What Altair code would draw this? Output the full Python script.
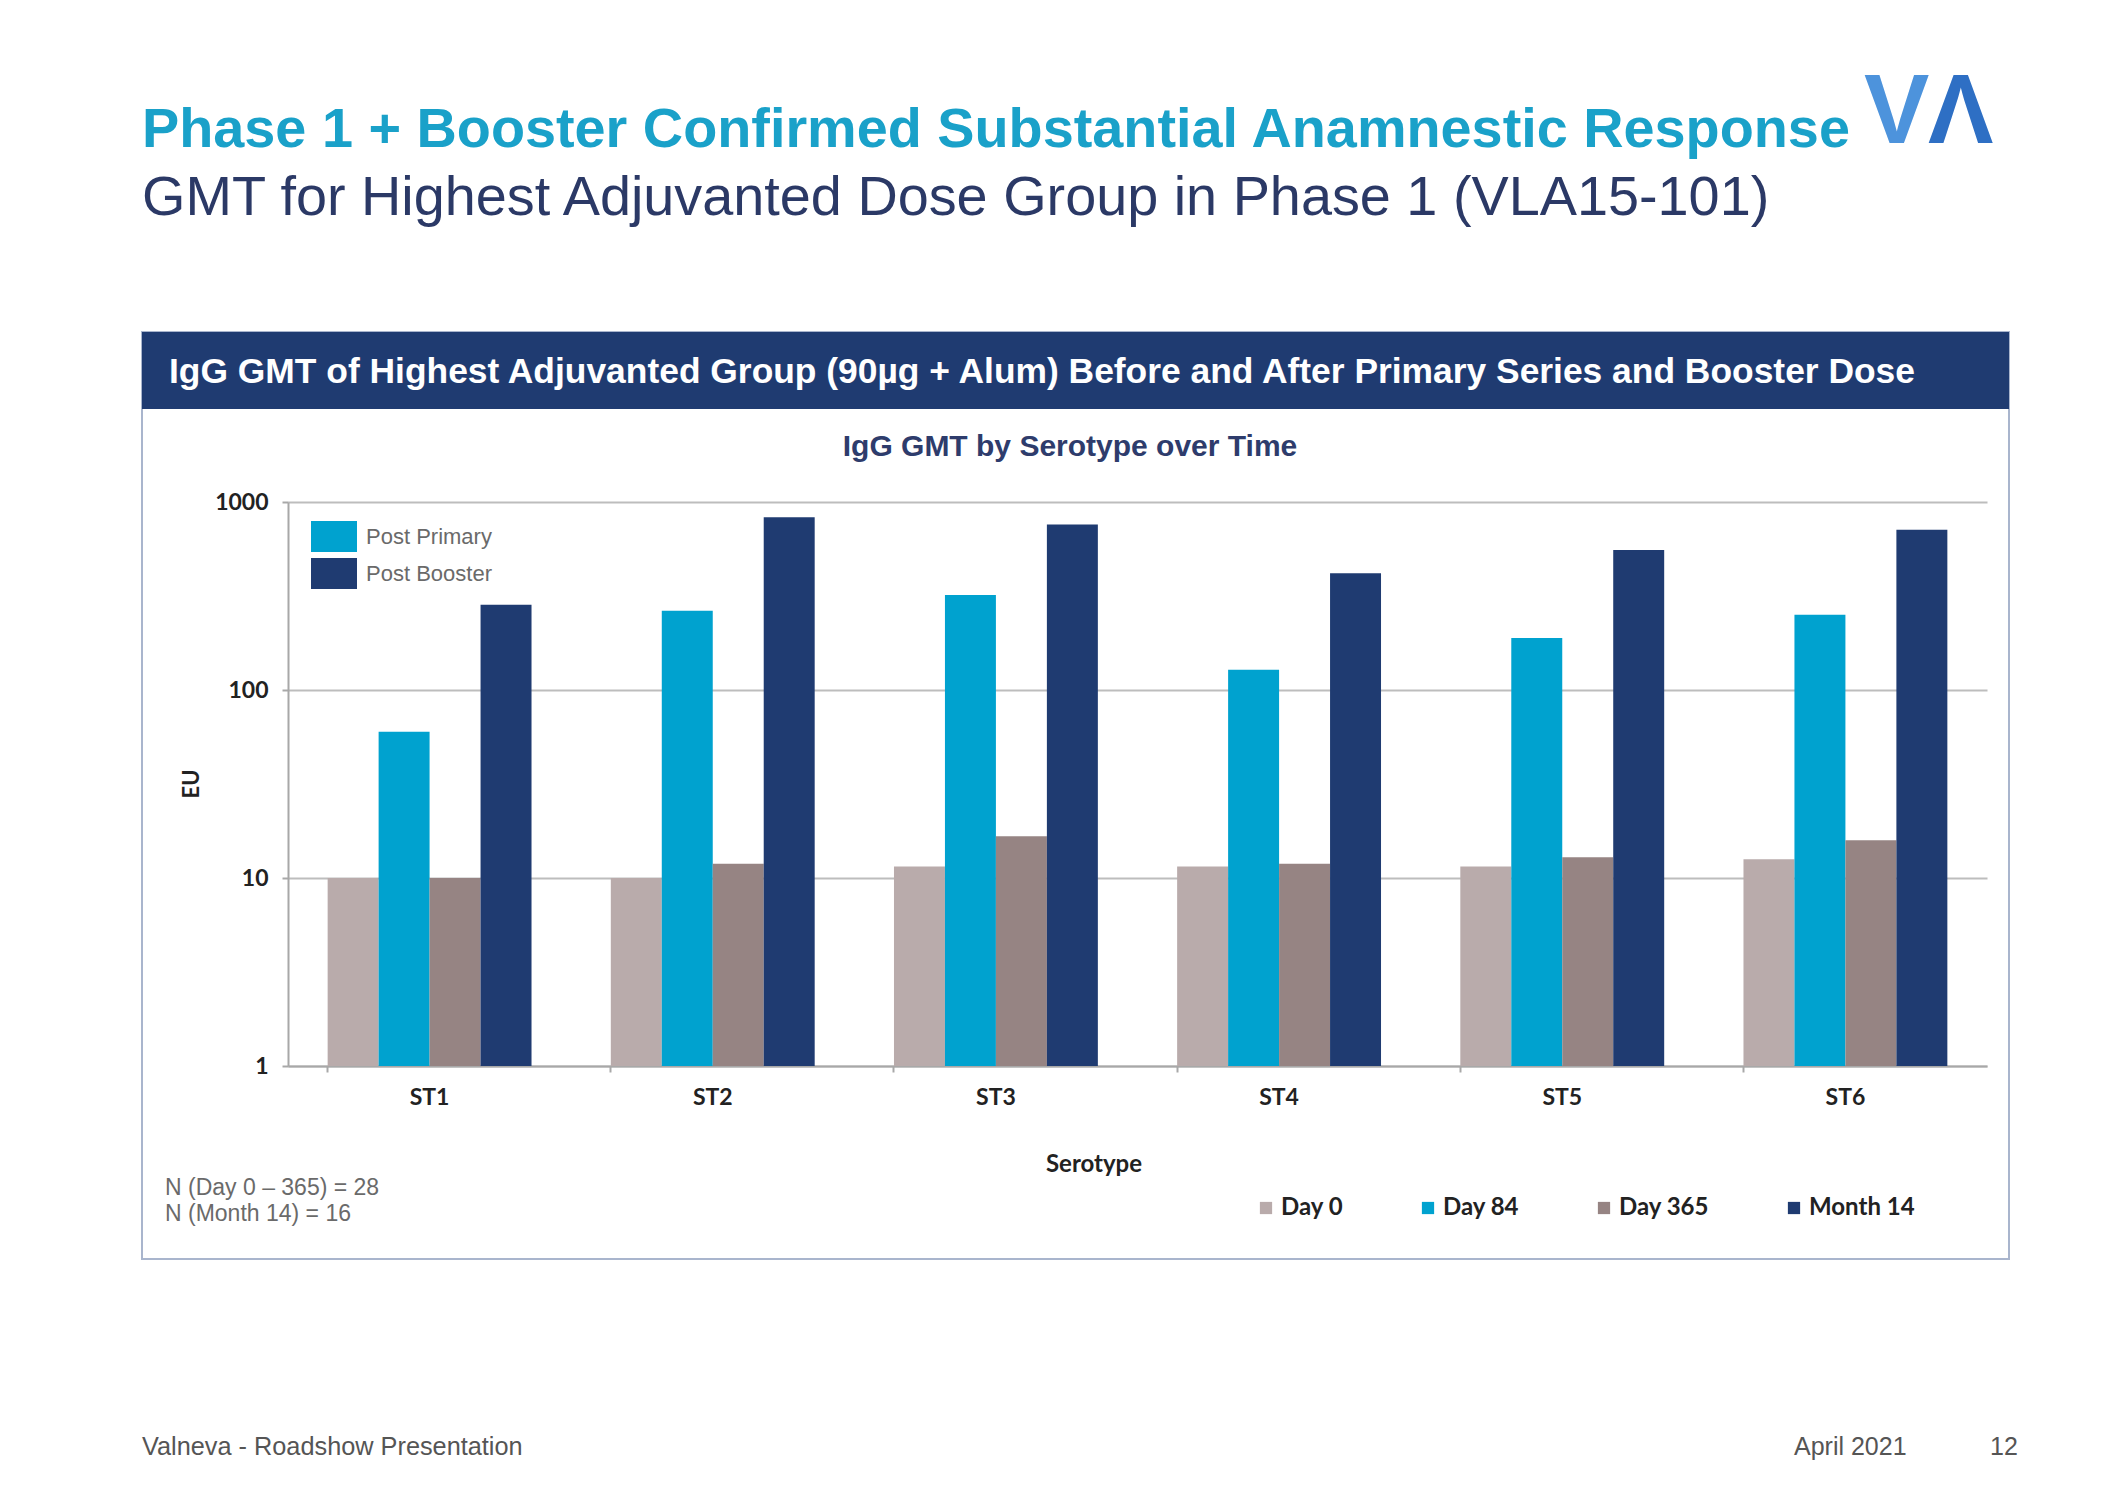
import altair as alt
import pandas as pd

# ---------------- data ----------------
serotypes = ["ST1", "ST2", "ST3", "ST4", "ST5", "ST6"]
timepoints = ["Day 0", "Day 84", "Day 365", "Month 14"]
day0 = [10, 10, 11.5, 11.5, 11.5, 12.6]
day84 = [60, 264, 320, 128, 189, 251]
day365 = [10, 11.9, 16.7, 11.9, 12.9, 15.9]
month14 = [284, 830, 759, 418, 556, 711]
colors = ["#b9abab", "#00a2cf", "#968483", "#1f3b71"]
y_ticks = [1, 10, 100, 1000]

title1 = "Phase 1 + Booster Confirmed Substantial Anamnestic Response"
title2 = "GMT for Highest Adjuvanted Dose Group in Phase 1 (VLA15-101)"
banner = "IgG GMT of Highest Adjuvanted Group (90µg + Alum) Before and After Primary Series and Booster Dose"
subtitle = "IgG GMT by Serotype over Time"
inner_legend = ["Post Primary", "Post Booster"]
inner_colors = ["#00a2cf", "#1f3b71"]
n_notes = ["N (Day 0 – 365) = 28", "N (Month 14) = 16"]
footer_left = "Valneva - Roadshow Presentation"
footer_date = "April 2021"
footer_page = "12"

series = [day0, day84, day365, month14]
rows = []
for tp, vals in zip(timepoints, series):
    for s, v in zip(serotypes, vals):
        rows.append({"serotype": s, "timepoint": tp, "value": v})
df = pd.DataFrame(rows)

# plot area in page coords: x 288..1987, y 502..1066
W, H = 1699, 564
OX, OY = 288, 502


def px(X):
    return X - OX


def py(Y):
    return Y - OY


one = pd.DataFrame({"a": [0]})


def text_layer(txt, X, Y, size, color, weight="normal", font="Liberation Sans",
               align="left", angle=0):
    kw = dict(font=font, fontSize=size, color=color, fontWeight=weight,
              align=align, baseline="middle")
    if angle:
        kw["angle"] = angle
    return alt.Chart(pd.DataFrame({"t": [txt]})).mark_text(**kw).encode(
        x=alt.value(px(X)), y=alt.value(py(Y)), text="t:N")


layers = []

# outer box border
layers.append(alt.Chart(one).mark_rect(fillOpacity=0, stroke="#a9b5cd", strokeWidth=2).encode(
    x=alt.value(px(142)), x2=alt.value(px(2009)), y=alt.value(py(332)), y2=alt.value(py(1259))))
# banner
layers.append(alt.Chart(one).mark_rect(color="#1f3b71").encode(
    x=alt.value(px(142)), x2=alt.value(px(2009)), y=alt.value(py(332)), y2=alt.value(py(409))))
layers.append(text_layer(banner, 169, 372, 35.4, "#ffffff", "bold"))

# titles
layers.append(text_layer(title1, 142, 130, 55.8, "#1aa1c9", "bold"))
layers.append(text_layer(title2, 142, 198, 55.8, "#2b3966"))
# logo approximation
layers.append(text_layer("V", 1864, 114, 98, "#4d93dc", "bold"))
layers.append(text_layer("Λ", 1928, 114, 98, "#2e6fc4", "bold"))

# chart subtitle
layers.append(text_layer(subtitle, 1070, 447, 30, "#2e3c6c", "bold", align="center"))

# inner legend (Post Primary / Post Booster)
for i, (lab, col) in enumerate(zip(inner_legend, inner_colors)):
    y0 = 521 + i * 37
    layers.append(alt.Chart(one).mark_rect(color=col).encode(
        x=alt.value(px(311)), x2=alt.value(px(357)), y=alt.value(py(y0)), y2=alt.value(py(y0 + 31))))
    layers.append(text_layer(lab, 366, y0 + 16, 22, "#6a6a6a"))

# EU title, Serotype title
layers.append(text_layer("EU", 192, 784, 22, "#222222", "bold", font="Lato", align="center", angle=270))
layers.append(text_layer("Serotype", 1094, 1165, 24, "#222222", "bold", font="Lato", align="center"))

# N notes
for i, t in enumerate(n_notes):
    layers.append(text_layer(t, 165, 1188 + i * 26, 23, "#6a6a6a"))

# footer
layers.append(text_layer(footer_left, 142, 1447, 25.3, "#555555"))
layers.append(text_layer(footer_date, 1794, 1447, 25, "#555555"))
layers.append(text_layer(footer_page, 1990, 1447, 25, "#555555"))

# bars
bars = alt.Chart(df).mark_bar().encode(
    x=alt.X("serotype:N", sort=serotypes, title=None,
            scale=alt.Scale(paddingInner=0.28, paddingOuter=0.14),
            axis=alt.Axis(labelFont="Lato", labelFontSize=23, labelFontWeight="bold",
                          labelColor="#222222", labelAngle=0, labelPadding=14,
                          domainColor="#a8a8a8", domainWidth=2, tickColor="#a8a8a8",
                          tickWidth=2, tickSize=6, bandPosition=0, grid=False)),
    xOffset=alt.XOffset("timepoint:N", sort=timepoints, scale=alt.Scale(paddingInner=0, paddingOuter=0)),
    y=alt.Y("value:Q", title=None,
            scale=alt.Scale(type="log", domain=[1, 1000]),
            axis=alt.Axis(values=y_ticks, format="d", labelFont="Lato", labelFontSize=23,
                          labelFontWeight="bold", labelColor="#222222", labelPadding=14,
                          domainColor="#a8a8a8", domainWidth=2, tickColor="#a8a8a8",
                          tickWidth=2, tickSize=6, gridColor="#bdbdbd", gridWidth=2)),
    y2=alt.datum(1),
    color=alt.Color("timepoint:N", sort=timepoints,
                    scale=alt.Scale(domain=timepoints, range=colors),
                    legend=alt.Legend(orient="none", legendX=px(1254), legendY=py(1196),
                                      direction="horizontal", title=None, symbolType="square",
                                      symbolSize=150, symbolStrokeWidth=0, labelFont="Lato",
                                      labelFontSize=24, labelFontWeight="bold",
                                      labelColor="#222222", columnPadding=72, labelOffset=3)),
)
layers.append(bars)

chart = alt.layer(*layers).properties(
    width=W, height=H,
    padding={"left": 280, "top": 494, "right": 2102 - 280 - W, "bottom": 1484 - 494 - H},
    autosize=alt.AutoSizeParams(type="none"),
    background="white",
).configure_view(strokeWidth=0)

chart.save("out.html", embed_options={"renderer": "svg", "actions": False})
